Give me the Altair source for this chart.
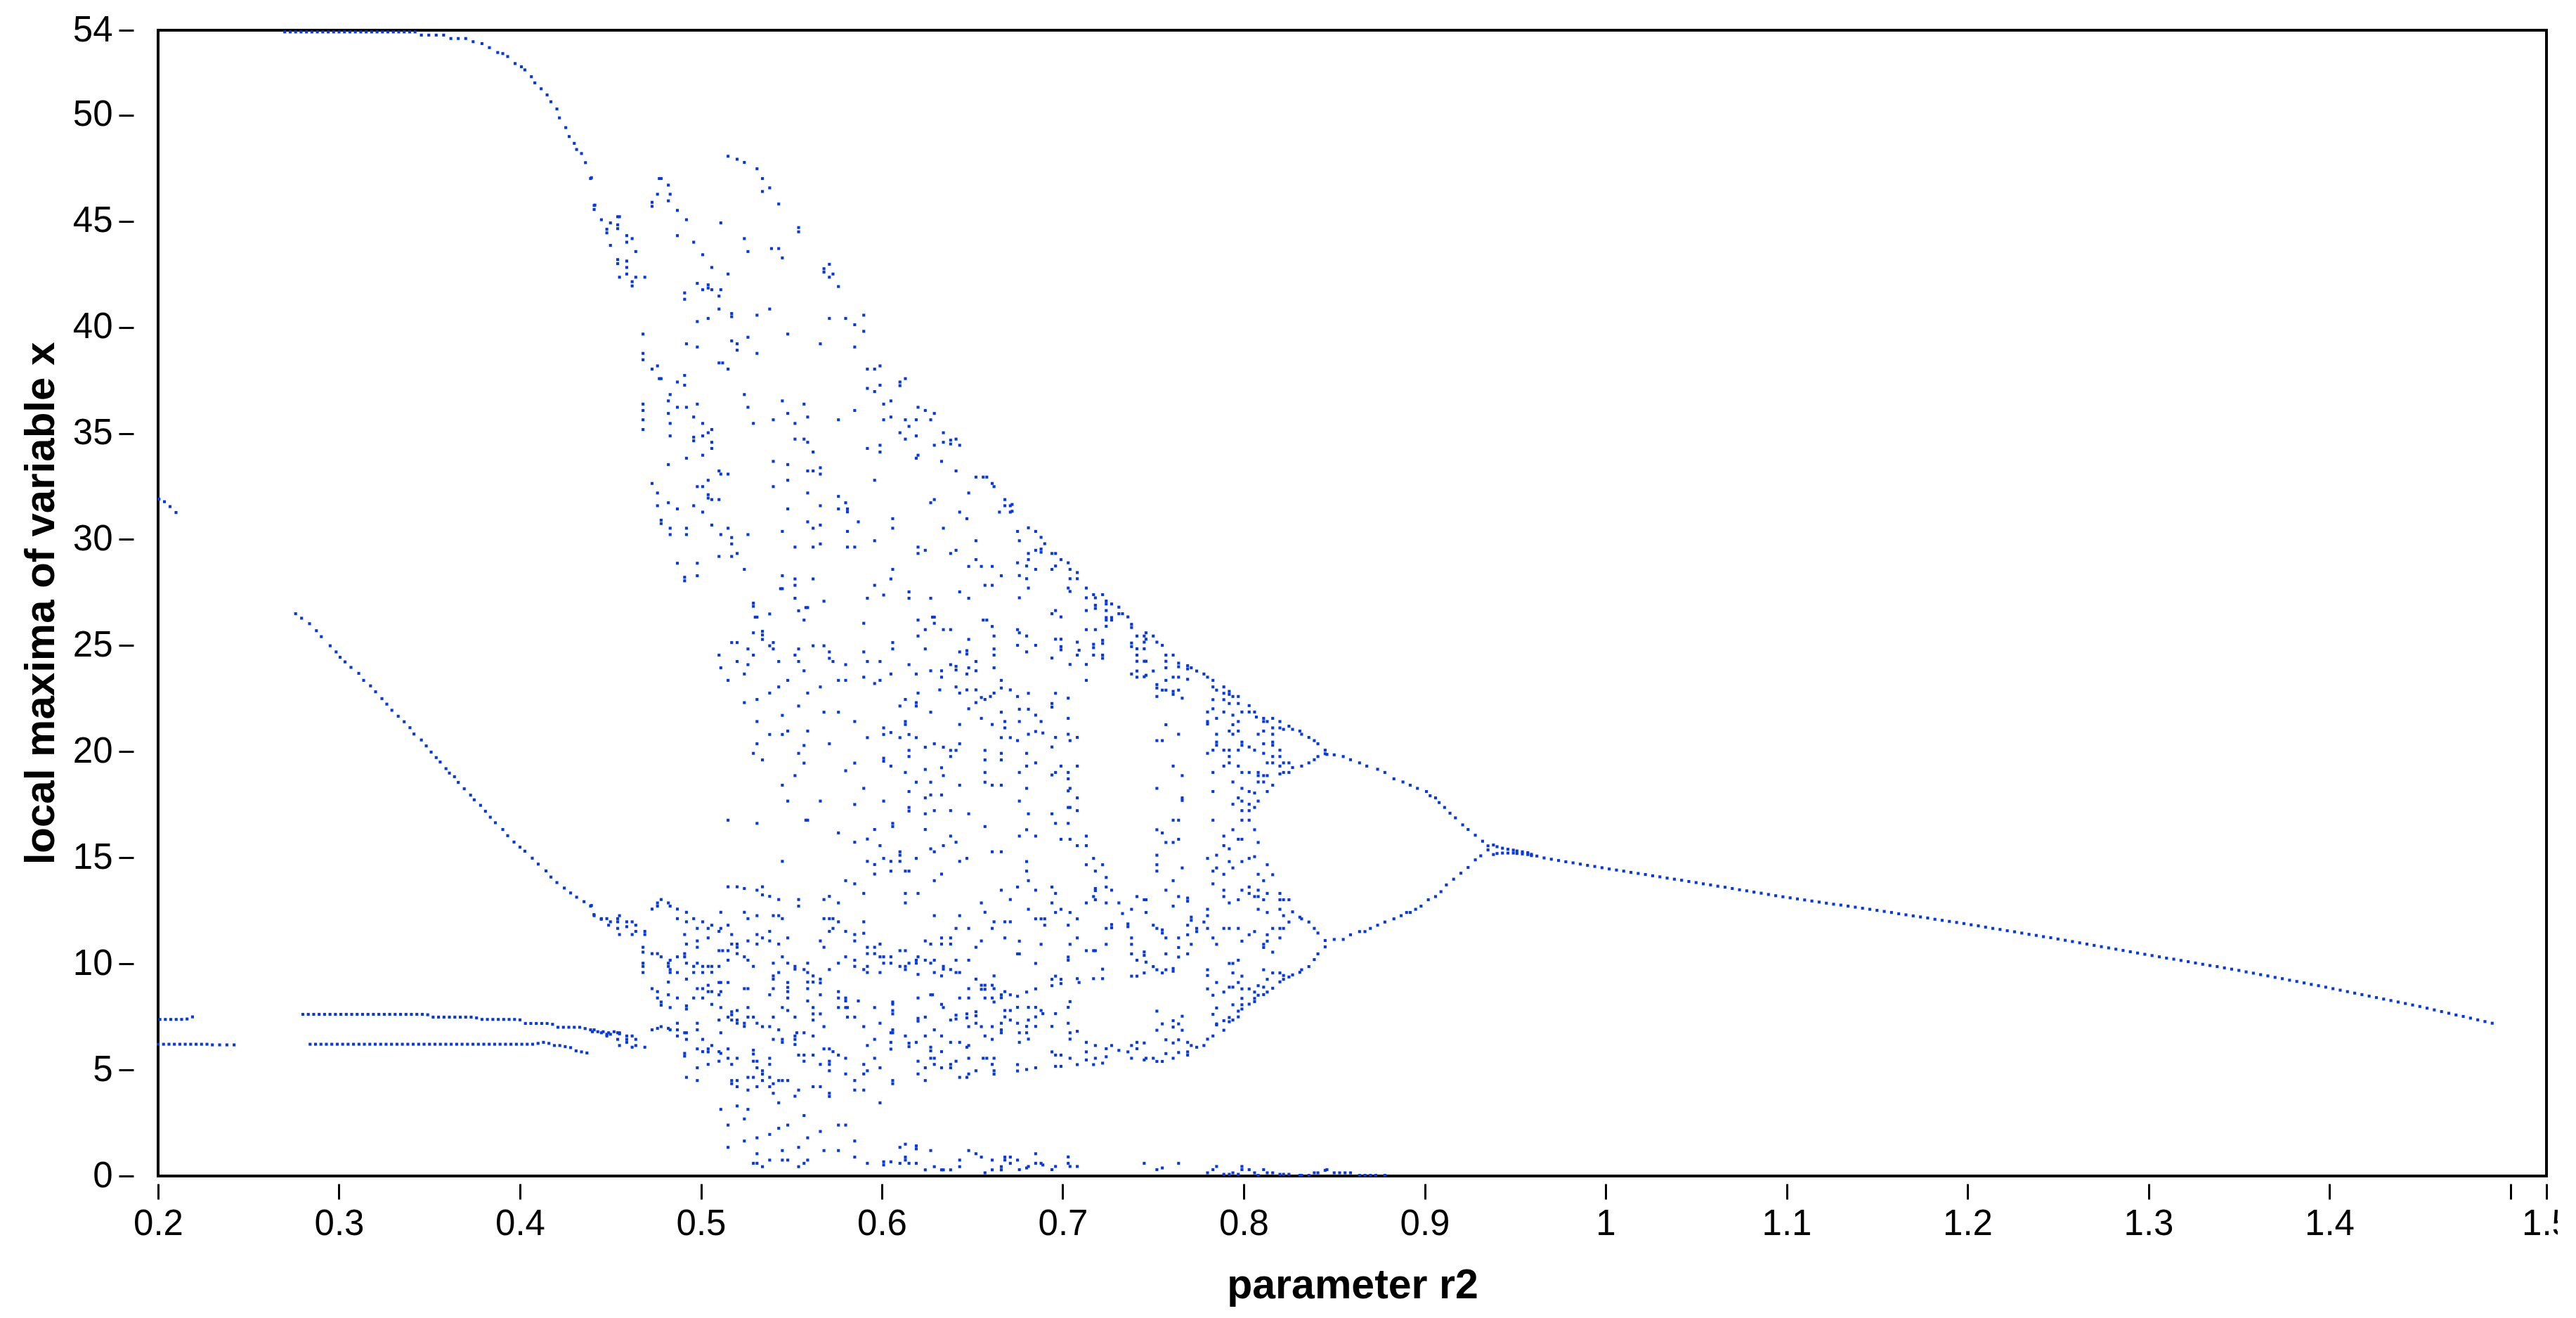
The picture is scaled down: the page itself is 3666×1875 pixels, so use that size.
import altair as alt
import pandas as pd

# ---------------- axis tick values ----------------
X_TICKS = [0.2, 0.3, 0.4, 0.5, 0.6, 0.7, 0.8, 0.9, 1.0, 1.1, 1.2, 1.3, 1.4, 1.5, 1.52]
Y_TICKS = [0, 5, 10, 15, 20, 25, 30, 35, 40, 45, 50, 54]

# ---------------- data (parameter r2, local maximum) ----------------
LEFT_SEG = [(0.2005, 31.9), (0.2035, 31.78), (0.2066, 31.55), (0.2099, 31.27)]

TOP_FLAT = [(0.270, 53.92), (0.273, 53.92), (0.276, 53.92), (0.279, 53.92), (0.282, 53.92), (0.285, 53.92),
            (0.288, 53.92), (0.291, 53.92), (0.294, 53.92), (0.297, 53.92), (0.300, 53.92), (0.303, 53.92),
            (0.306, 53.92), (0.309, 53.92), (0.312, 53.92), (0.315, 53.92), (0.318, 53.92), (0.321, 53.92),
            (0.324, 53.92), (0.327, 53.92), (0.330, 53.92), (0.333, 53.92), (0.336, 53.92), (0.339, 53.92),
            (0.342, 53.92)]

TOP_CURVE = [(0.3455, 53.77), (0.3496, 53.77), (0.3537, 53.77), (0.3578, 53.77), (0.3618, 53.61), (0.3659, 53.61),
             (0.3700, 53.61), (0.3741, 53.46), (0.3790, 53.37), (0.3831, 53.18), (0.3877, 52.95), (0.3905, 52.90),
             (0.3932, 52.76), (0.3973, 52.43), (0.4008, 52.28), (0.4027, 52.13), (0.4063, 51.81), (0.4082, 51.52),
             (0.4117, 51.24), (0.4150, 50.95), (0.4171, 50.63), (0.4204, 50.29), (0.4218, 49.87), (0.4253, 49.41),
             (0.4272, 48.99), (0.4300, 48.67), (0.4313, 48.38), (0.4340, 48.19), (0.4362, 47.76), (0.4395, 47.05),
             (0.4414, 45.76)]

BRANCH_B = [(0.2760, 26.50), (0.2793, 26.29), (0.2837, 26.03), (0.2875, 25.70), (0.2902, 25.42), (0.2951, 24.99),
            (0.2984, 24.70), (0.3006, 24.45), (0.3033, 24.23), (0.3066, 23.97), (0.3109, 23.69), (0.3136, 23.36),
            (0.3174, 23.10), (0.3202, 22.82), (0.3237, 22.50), (0.3264, 22.24), (0.3292, 21.95), (0.3327, 21.67),
            (0.3360, 21.41), (0.3392, 21.13), (0.3414, 20.83), (0.3455, 20.55), (0.3482, 20.27), (0.3509, 19.98),
            (0.3537, 19.72), (0.3559, 19.51), (0.3591, 19.20), (0.3610, 18.99), (0.3638, 18.82), (0.3659, 18.55),
            (0.3692, 18.25), (0.3727, 17.95), (0.3747, 17.73), (0.3782, 17.47), (0.3809, 17.19), (0.3836, 16.91),
            (0.3864, 16.65), (0.3905, 16.33), (0.3932, 16.04), (0.3967, 15.74), (0.4000, 15.50), (0.4027, 15.31),
            (0.4068, 14.98), (0.4101, 14.70), (0.4144, 14.38), (0.4171, 14.09), (0.4204, 13.83), (0.4245, 13.57),
            (0.4280, 13.34), (0.4313, 13.14), (0.4354, 12.93), (0.4395, 12.75), (0.4409, 12.32), (0.4449, 12.10)]

BRANCH_C = [(0.201, 7.38), (0.204, 7.38), (0.207, 7.38), (0.210, 7.38), (0.213, 7.38), (0.216, 7.40), (0.219, 7.50),
            (0.280, 7.62), (0.283, 7.62), (0.286, 7.62), (0.289, 7.62), (0.292, 7.62), (0.295, 7.62), (0.298, 7.62),
            (0.301, 7.62), (0.304, 7.62), (0.307, 7.62), (0.310, 7.62), (0.313, 7.62), (0.316, 7.62), (0.319, 7.62),
            (0.322, 7.62), (0.325, 7.62), (0.328, 7.62), (0.331, 7.62), (0.334, 7.62), (0.337, 7.62), (0.340, 7.62),
            (0.343, 7.62), (0.346, 7.62), (0.349, 7.60), (0.352, 7.49), (0.355, 7.49), (0.358, 7.49), (0.361, 7.49),
            (0.364, 7.49), (0.367, 7.49), (0.370, 7.49), (0.373, 7.49), (0.376, 7.45), (0.379, 7.38), (0.382, 7.38),
            (0.385, 7.38), (0.388, 7.38), (0.391, 7.38), (0.394, 7.38), (0.397, 7.38), (0.400, 7.36), (0.403, 7.19),
            (0.406, 7.19), (0.409, 7.19), (0.412, 7.19), (0.415, 7.19), (0.418, 7.15), (0.421, 7.01), (0.424, 7.01),
            (0.427, 7.01), (0.430, 7.01), (0.433, 7.01), (0.436, 6.95), (0.440, 6.80), (0.443, 6.80), (0.446, 6.80),
            (0.449, 6.75), (0.452, 6.80), (0.455, 6.70)]

BRANCH_D = [(0.200, 6.21), (0.203, 6.21), (0.206, 6.21), (0.209, 6.21), (0.212, 6.21), (0.215, 6.21), (0.218, 6.21),
            (0.221, 6.21), (0.224, 6.21), (0.227, 6.21), (0.230, 6.18), (0.234, 6.18), (0.238, 6.18), (0.242, 6.18),
            (0.284, 6.21), (0.287, 6.21), (0.290, 6.21), (0.293, 6.21), (0.296, 6.21), (0.299, 6.21), (0.302, 6.21),
            (0.305, 6.21), (0.308, 6.21), (0.311, 6.21), (0.314, 6.21), (0.317, 6.21), (0.320, 6.21), (0.323, 6.21),
            (0.326, 6.21), (0.329, 6.21), (0.332, 6.21), (0.335, 6.21), (0.338, 6.21), (0.341, 6.21), (0.344, 6.21),
            (0.347, 6.21), (0.350, 6.21), (0.353, 6.21), (0.356, 6.21), (0.359, 6.21), (0.362, 6.21), (0.365, 6.21),
            (0.368, 6.21), (0.371, 6.21), (0.374, 6.21), (0.377, 6.21), (0.380, 6.21), (0.383, 6.21), (0.386, 6.21),
            (0.389, 6.21), (0.392, 6.21), (0.395, 6.21), (0.398, 6.21), (0.401, 6.21), (0.404, 6.21), (0.407, 6.21),
            (0.410, 6.25), (0.413, 6.30), (0.416, 6.25), (0.419, 6.15), (0.422, 6.15), (0.425, 6.10), (0.428, 6.05),
            (0.431, 5.90), (0.434, 5.85), (0.437, 5.80)]

CHAOS_UPPER = [
    (0.515, 48.06), (0.520, 47.92), (0.524, 47.77), (0.531, 47.47), (0.534, 47.01), (0.534, 46.40), (0.538, 46.57),
    (0.543, 45.81), (0.554, 44.70), (0.554, 44.50), (0.439, 47.01), (0.477, 47.01), (0.478, 47.01), (0.482, 46.70),
    (0.476, 46.27), (0.483, 46.27), (0.473, 45.89), (0.473, 45.70), (0.482, 45.96), (0.441, 45.74), (0.441, 45.55),
    (0.487, 45.51), (0.445, 45.07), (0.454, 45.21), (0.455, 45.21), (0.450, 44.92), (0.454, 44.83), (0.454, 44.65),
    (0.448, 44.62), (0.448, 44.45), (0.492, 45.07), (0.511, 44.92), (0.459, 44.32), (0.462, 44.18), (0.487, 44.32),
    (0.459, 44.01), (0.496, 44.01), (0.524, 44.18), (0.450, 43.86), (0.464, 43.57), (0.526, 43.57), (0.539, 43.71),
    (0.543, 43.71), (0.501, 43.42), (0.545, 43.27), (0.454, 43.19), (0.454, 43.00), (0.459, 43.12), (0.459, 42.82),
    (0.506, 42.82), (0.568, 42.76), (0.568, 42.60), (0.571, 42.97), (0.573, 42.51), (0.571, 42.36), (0.459, 42.51),
    (0.455, 42.36), (0.464, 42.36), (0.469, 42.36), (0.462, 42.15), (0.462, 41.95), (0.515, 42.51), (0.498, 42.07),
    (0.504, 42.00), (0.504, 41.85), (0.501, 41.77), (0.506, 41.77), (0.511, 41.77), (0.491, 41.62), (0.491, 41.32),
    (0.510, 41.47), (0.576, 41.92), (0.510, 40.86), (0.538, 40.86), (0.517, 40.65), (0.517, 40.50), (0.531, 40.57),
    (0.504, 40.42), (0.498, 40.27), (0.571, 40.42), (0.580, 40.42), (0.590, 40.57), (0.585, 40.12), (0.590, 39.81),
    (0.548, 39.68), (0.468, 39.68), (0.492, 39.22), (0.498, 39.07), (0.517, 39.36), (0.520, 39.22), (0.520, 38.92),
    (0.526, 39.53), (0.531, 38.77), (0.566, 39.22), (0.585, 39.07), (0.468, 38.77), (0.468, 38.47), (0.510, 38.32),
    (0.512, 38.32), (0.515, 38.03), (0.473, 38.03), (0.476, 38.18), (0.477, 37.58), (0.478, 37.58), (0.491, 37.73),
    (0.487, 37.42), (0.491, 37.27), (0.592, 38.03), (0.596, 38.03), (0.599, 38.18), (0.610, 37.42), (0.610, 37.25),
    (0.613, 37.58), (0.592, 37.12), (0.596, 36.97), (0.599, 37.27), (0.483, 36.83), (0.524, 36.83), (0.482, 36.53),
    (0.468, 36.38), (0.468, 36.08), (0.468, 35.64), (0.468, 35.18), (0.487, 36.23), (0.492, 36.23), (0.498, 36.38),
    (0.482, 35.94), (0.496, 35.77), (0.483, 35.47), (0.501, 35.47), (0.526, 36.23), (0.545, 36.53), (0.557, 36.38),
    (0.548, 35.94), (0.559, 35.77), (0.540, 35.64), (0.552, 35.47), (0.529, 35.47), (0.576, 35.64), (0.585, 36.08),
    (0.601, 36.38), (0.605, 36.53), (0.605, 35.77), (0.601, 35.64), (0.620, 36.23), (0.624, 36.08), (0.629, 35.94),
    (0.613, 35.64), (0.619, 35.64), (0.627, 35.64), (0.615, 35.33), (0.610, 35.03), (0.613, 34.73), (0.619, 34.88),
    (0.634, 35.03), (0.638, 34.68), (0.638, 34.50), (0.641, 34.73), (0.634, 34.58), (0.643, 34.44), (0.629, 34.44),
    (0.506, 35.18), (0.504, 35.03), (0.501, 34.88), (0.496, 34.82), (0.496, 34.65), (0.483, 34.88), (0.506, 34.58),
    (0.506, 34.29), (0.501, 33.97), (0.492, 33.83), (0.482, 33.53), (0.552, 34.73), (0.557, 34.73), (0.559, 34.58),
    (0.562, 34.12), (0.592, 34.29), (0.599, 34.44), (0.599, 34.12), (0.620, 33.97), (0.619, 33.83), (0.633, 33.68),
    (0.540, 33.68), (0.548, 33.53), (0.510, 33.23), (0.511, 33.08), (0.515, 33.08), (0.504, 32.79), (0.559, 33.23),
    (0.562, 33.23), (0.566, 33.38), (0.566, 33.08), (0.548, 32.79), (0.596, 32.79), (0.641, 33.23), (0.652, 32.94),
    (0.656, 32.94), (0.658, 32.94), (0.661, 32.64), (0.662, 32.49), (0.473, 32.64), (0.476, 32.19), (0.498, 32.49),
    (0.501, 32.49), (0.540, 32.49), (0.504, 32.11), (0.504, 31.95), (0.506, 31.88), (0.510, 31.88), (0.559, 32.19),
    (0.576, 32.03), (0.580, 31.73), (0.648, 32.19), (0.629, 31.88), (0.627, 31.73), (0.668, 31.88), (0.668, 31.59),
    (0.671, 31.59), (0.665, 31.29), (0.671, 31.29), (0.476, 31.59), (0.482, 31.73), (0.487, 31.44), (0.496, 31.59),
    (0.501, 31.29), (0.548, 31.44), (0.566, 31.59), (0.576, 31.44), (0.581, 31.44), (0.581, 31.30), (0.478, 30.91),
    (0.478, 30.75), (0.483, 30.53), (0.483, 30.23), (0.492, 30.53), (0.492, 30.23), (0.506, 30.68), (0.515, 30.53),
    (0.511, 30.23), (0.517, 30.09), (0.517, 29.79), (0.526, 30.23), (0.545, 30.38), (0.559, 30.83), (0.562, 30.53),
    (0.566, 30.68), (0.581, 30.38), (0.587, 30.83), (0.606, 30.98), (0.606, 30.53), (0.634, 30.53), (0.643, 31.29),
    (0.647, 30.98), (0.596, 29.94), (0.520, 29.34), (0.510, 29.20), (0.517, 29.20), (0.552, 29.64), (0.562, 29.64),
    (0.566, 29.79), (0.581, 29.64), (0.585, 29.64), (0.620, 29.64), (0.624, 29.49), (0.620, 29.34), (0.638, 29.34),
    (0.641, 29.49), (0.652, 29.94), (0.652, 29.05), (0.648, 28.73), (0.655, 28.73), (0.661, 28.73), (0.666, 28.29),
    (0.657, 27.84), (0.661, 27.84), (0.487, 28.88), (0.498, 28.88), (0.491, 28.22), (0.491, 28.05), (0.498, 28.29),
    (0.524, 28.59), (0.545, 28.29), (0.552, 28.14), (0.552, 27.84), (0.562, 28.14), (0.606, 28.59), (0.605, 28.14),
    (0.596, 27.84), (0.601, 27.38), (0.615, 27.53), (0.615, 27.23), (0.627, 27.23), (0.643, 27.53), (0.648, 27.23),
    (0.592, 27.23), (0.552, 27.23), (0.568, 27.09), (0.544, 27.68), (0.545, 27.68), (0.529, 27.00), (0.529, 26.85),
    (0.558, 26.79), (0.559, 26.79), (0.554, 26.64), (0.538, 26.49), (0.530, 26.34), (0.531, 26.34), (0.557, 26.20),
    (0.590, 26.05), (0.620, 26.20), (0.629, 26.05), (0.628, 26.34), (0.629, 26.34), (0.656, 26.20), (0.658, 26.20),
    (0.661, 25.90), (0.624, 25.75), (0.634, 25.75), (0.638, 25.75), (0.620, 25.45), (0.648, 25.29), (0.662, 25.45),
    (0.534, 25.67), (0.534, 25.50), (0.529, 25.60), (0.534, 25.29), (0.540, 25.14), (0.538, 24.99), (0.517, 25.14),
    (0.520, 25.14), (0.526, 24.84), (0.540, 24.84), (0.554, 24.84), (0.562, 24.99), (0.568, 24.99), (0.571, 24.70),
    (0.571, 24.40), (0.573, 24.25), (0.590, 24.70), (0.606, 25.14), (0.606, 24.84), (0.624, 24.84), (0.647, 24.76),
    (0.647, 24.60), (0.643, 24.70), (0.662, 24.84), (0.662, 24.55), (0.510, 24.55), (0.529, 24.55), (0.552, 24.55),
    (0.511, 23.95), (0.520, 24.25), (0.526, 24.10), (0.543, 24.25), (0.554, 24.25), (0.580, 24.10), (0.592, 24.25),
    (0.599, 24.25), (0.615, 24.10), (0.638, 24.10), (0.641, 24.02), (0.641, 23.85), (0.648, 23.95), (0.652, 24.25),
    (0.662, 23.95), (0.557, 23.81), (0.524, 23.66), (0.605, 23.66), (0.619, 23.66), (0.627, 23.81), (0.633, 23.81),
    (0.647, 23.66), (0.652, 23.81), (0.590, 23.51), (0.633, 23.51), (0.515, 23.36), (0.548, 23.36), (0.576, 23.36),
    (0.580, 23.36), (0.596, 23.21), (0.599, 23.36), (0.666, 23.36)]

CHAOS_LOWER = [
    (0.543, 23.05), (0.566, 23.05), (0.632, 22.91), (0.641, 23.05), (0.647, 22.91), (0.652, 22.91), (0.666, 23.00),
    (0.671, 22.91), (0.538, 22.76), (0.559, 22.76), (0.620, 22.76), (0.643, 22.76), (0.662, 22.76), (0.660, 22.60),
    (0.655, 22.55), (0.657, 22.46), (0.524, 22.31), (0.531, 22.46), (0.554, 22.15), (0.610, 22.15), (0.613, 22.46),
    (0.619, 22.31), (0.619, 22.15), (0.652, 22.31), (0.648, 22.02), (0.545, 21.71), (0.568, 21.86), (0.576, 21.86),
    (0.627, 21.86), (0.666, 21.86), (0.531, 21.42), (0.585, 21.42), (0.613, 21.42), (0.613, 21.28), (0.643, 21.28),
    (0.655, 21.57), (0.661, 21.28), (0.668, 21.42), (0.668, 21.12), (0.538, 20.81), (0.545, 20.81), (0.548, 20.97),
    (0.559, 20.97), (0.592, 20.66), (0.601, 21.12), (0.601, 20.81), (0.605, 20.90), (0.610, 20.66), (0.615, 20.81),
    (0.619, 20.66), (0.666, 20.66), (0.671, 20.66), (0.531, 20.37), (0.557, 20.29), (0.571, 20.37), (0.624, 20.21),
    (0.629, 20.37), (0.634, 20.21), (0.638, 20.06), (0.641, 20.06), (0.643, 20.37), (0.657, 20.06), (0.666, 19.92),
    (0.529, 19.92), (0.534, 19.61), (0.554, 19.92), (0.615, 20.06), (0.615, 19.77), (0.638, 19.77), (0.657, 19.61),
    (0.666, 19.61), (0.557, 19.46), (0.585, 19.46), (0.601, 19.69), (0.601, 19.55), (0.605, 19.32), (0.624, 19.16),
    (0.633, 19.24), (0.634, 18.87), (0.657, 19.02), (0.580, 19.10), (0.613, 19.02), (0.552, 18.87), (0.545, 18.42),
    (0.590, 18.27), (0.619, 18.56), (0.627, 18.56), (0.643, 18.42), (0.657, 18.56), (0.661, 18.42), (0.666, 18.42),
    (0.615, 18.12), (0.624, 17.82), (0.627, 17.96), (0.633, 17.96), (0.548, 17.67), (0.566, 17.67), (0.585, 17.51),
    (0.601, 17.67), (0.615, 17.37), (0.615, 17.20), (0.629, 17.22), (0.638, 17.22), (0.648, 17.07), (0.624, 17.07),
    (0.515, 16.77), (0.531, 16.62), (0.558, 16.77), (0.559, 16.77), (0.606, 16.62), (0.606, 16.47), (0.657, 16.47),
    (0.576, 16.17), (0.596, 16.33), (0.624, 16.33), (0.585, 15.73), (0.592, 15.88), (0.599, 15.57), (0.610, 15.28),
    (0.610, 15.12), (0.627, 15.42), (0.629, 15.28), (0.634, 15.57), (0.638, 16.02), (0.641, 15.73), (0.661, 15.28),
    (0.666, 15.28), (0.545, 14.83), (0.592, 14.83), (0.596, 14.68), (0.601, 14.97), (0.605, 14.83), (0.610, 14.83),
    (0.613, 14.37), (0.615, 14.37), (0.619, 14.97), (0.596, 14.23), (0.605, 14.37), (0.633, 14.23), (0.629, 13.92),
    (0.643, 14.83), (0.647, 14.97), (0.580, 13.92), (0.585, 13.77), (0.666, 13.47), (0.590, 13.32), (0.613, 13.32),
    (0.620, 13.32), (0.613, 12.87), (0.515, 13.63), (0.520, 13.63), (0.524, 13.55), (0.531, 13.47), (0.534, 13.63),
    (0.534, 13.25), (0.538, 13.18), (0.543, 13.03), (0.554, 13.03), (0.554, 12.72), (0.568, 13.03), (0.571, 13.18),
    (0.576, 12.87), (0.655, 12.87), (0.671, 13.03), (0.657, 12.43), (0.629, 12.27), (0.643, 12.27),
    (0.439, 12.72), (0.441, 12.27), (0.445, 12.13), (0.448, 12.13), (0.450, 11.98), (0.449, 11.82), (0.454, 12.13),
    (0.454, 11.98), (0.455, 12.27), (0.454, 11.67), (0.455, 11.38), (0.459, 11.98), (0.459, 11.75), (0.462, 11.98),
    (0.464, 11.82), (0.462, 11.38), (0.464, 11.53), (0.469, 11.53), (0.469, 11.38), (0.473, 12.58), (0.476, 12.87),
    (0.476, 12.72), (0.478, 13.03), (0.482, 12.87), (0.483, 12.72), (0.487, 12.58), (0.492, 12.43), (0.487, 12.13),
    (0.492, 11.98), (0.496, 12.13), (0.501, 11.98), (0.498, 11.67), (0.504, 11.67), (0.506, 11.82), (0.511, 12.43),
    (0.510, 11.53), (0.511, 11.67), (0.515, 11.82), (0.517, 11.38), (0.491, 11.38), (0.504, 11.22), (0.492, 10.93),
    (0.498, 11.08), (0.498, 10.78), (0.520, 10.93), (0.520, 10.78), (0.517, 10.93), (0.524, 12.43), (0.526, 12.13),
    (0.531, 12.27), (0.531, 11.38), (0.534, 11.22), (0.538, 11.53), (0.540, 12.27), (0.543, 12.27), (0.545, 12.13),
    (0.548, 11.22), (0.526, 11.08), (0.531, 10.93), (0.538, 11.08), (0.543, 10.93), (0.568, 12.13), (0.571, 12.13),
    (0.573, 12.13), (0.571, 11.53), (0.573, 11.67), (0.576, 11.98), (0.580, 11.53), (0.585, 11.38), (0.585, 11.08),
    (0.590, 11.98), (0.590, 11.44), (0.566, 11.08), (0.568, 10.78), (0.468, 10.78), (0.468, 10.55), (0.468, 10.03),
    (0.468, 9.88), (0.468, 9.59), (0.473, 10.48), (0.476, 10.48), (0.478, 10.33), (0.483, 10.17), (0.482, 10.03),
    (0.482, 9.88), (0.483, 9.73), (0.483, 9.59), (0.487, 10.33), (0.487, 9.59), (0.491, 10.48), (0.491, 10.33),
    (0.492, 10.03), (0.496, 9.88), (0.498, 10.03), (0.496, 9.59), (0.501, 9.88), (0.501, 9.59), (0.504, 9.88),
    (0.506, 9.88), (0.506, 9.60), (0.510, 9.88), (0.510, 10.62), (0.512, 10.62), (0.515, 10.62), (0.515, 10.17),
    (0.520, 10.48), (0.524, 10.33), (0.526, 10.17), (0.529, 9.88), (0.540, 10.03), (0.545, 10.33), (0.548, 10.03),
    (0.552, 9.88), (0.552, 9.75), (0.559, 10.03), (0.557, 9.73), (0.559, 9.59), (0.562, 9.43), (0.571, 9.73),
    (0.576, 10.03), (0.580, 10.33), (0.585, 10.17), (0.585, 9.88), (0.590, 9.73), (0.592, 10.78), (0.596, 10.78),
    (0.599, 10.93), (0.592, 10.48), (0.596, 10.48), (0.599, 10.33), (0.601, 10.33), (0.605, 10.33), (0.601, 10.03),
    (0.605, 10.03), (0.610, 10.62), (0.613, 10.62), (0.610, 9.88), (0.613, 9.88), (0.613, 9.73), (0.615, 10.03),
    (0.619, 10.17), (0.619, 10.03), (0.620, 10.33), (0.620, 9.50), (0.624, 10.17), (0.627, 10.03), (0.629, 10.17),
    (0.629, 9.59), (0.633, 9.43), (0.634, 9.88), (0.634, 9.75), (0.638, 9.73), (0.641, 10.17), (0.641, 9.59),
    (0.643, 9.59), (0.648, 10.17), (0.592, 9.88), (0.592, 9.59), (0.599, 9.59), (0.624, 11.08), (0.627, 10.93),
    (0.633, 11.22), (0.638, 11.22), (0.633, 10.93), (0.638, 10.93), (0.641, 11.67), (0.648, 11.67), (0.652, 10.78),
    (0.655, 11.08), (0.661, 11.67), (0.662, 11.98), (0.668, 11.98), (0.671, 11.98), (0.668, 11.22),
    (0.652, 9.28), (0.655, 8.99), (0.655, 8.80), (0.657, 8.99), (0.657, 8.80), (0.662, 9.43), (0.661, 8.99),
    (0.662, 8.83), (0.648, 8.83), (0.666, 8.54), (0.666, 8.40), (0.668, 8.69), (0.671, 8.54), (0.657, 8.39),
    (0.661, 8.39), (0.662, 8.20), (0.643, 8.39), (0.648, 8.39), (0.627, 8.54), (0.628, 8.54), (0.620, 8.39),
    (0.633, 8.09), (0.634, 7.94), (0.638, 7.35), (0.641, 7.58), (0.641, 7.40), (0.647, 7.64), (0.647, 7.45),
    (0.652, 7.74), (0.652, 7.55), (0.648, 7.04), (0.652, 7.20), (0.655, 7.04), (0.661, 7.04), (0.666, 7.20),
    (0.668, 7.50), (0.668, 7.80), (0.671, 7.80), (0.671, 7.35), (0.666, 6.89), (0.666, 6.75), (0.657, 6.60),
    (0.661, 6.44), (0.620, 7.43), (0.620, 7.30), (0.624, 7.49), (0.629, 6.89), (0.633, 6.60), (0.624, 6.60),
    (0.613, 6.60), (0.615, 6.26), (0.615, 6.10), (0.619, 6.30), (0.627, 6.07), (0.627, 5.90), (0.633, 5.86),
    (0.643, 6.30), (0.647, 6.07), (0.648, 6.15), (0.638, 6.30), (0.627, 5.55), (0.629, 5.55), (0.620, 5.41),
    (0.624, 5.10), (0.629, 5.26), (0.633, 5.10), (0.638, 5.26), (0.638, 5.10), (0.641, 5.41), (0.648, 5.55),
    (0.652, 4.96), (0.656, 5.55), (0.658, 5.55), (0.661, 5.26), (0.662, 5.55), (0.662, 4.96), (0.662, 4.80),
    (0.643, 4.65), (0.647, 4.65), (0.648, 4.81), (0.620, 4.81), (0.624, 4.50), (0.606, 4.50), (0.606, 4.35),
    (0.590, 5.26), (0.592, 4.96), (0.590, 4.81), (0.585, 4.50), (0.585, 4.05), (0.590, 4.05), (0.599, 5.10),
    (0.599, 3.45), (0.605, 5.98), (0.606, 6.89), (0.606, 6.75), (0.605, 6.75), (0.605, 6.30), (0.599, 7.20),
    (0.596, 6.44), (0.592, 6.15), (0.596, 5.55), (0.590, 7.04), (0.606, 8.20), (0.606, 8.10), (0.606, 7.80),
    (0.606, 7.64), (0.596, 7.94), (0.587, 8.25), (0.580, 8.39), (0.580, 8.25), (0.581, 7.94), (0.580, 7.94),
    (0.581, 7.49), (0.585, 7.49), (0.576, 8.69), (0.576, 8.39), (0.576, 7.94), (0.566, 8.54), (0.566, 7.64),
    (0.562, 7.94), (0.562, 7.64), (0.562, 7.35), (0.568, 7.04), (0.562, 6.60), (0.559, 8.25), (0.552, 7.49),
    (0.545, 7.94), (0.540, 7.49), (0.548, 7.80), (0.548, 9.12), (0.548, 8.89), (0.548, 8.69), (0.548, 8.39),
    (0.559, 9.14), (0.562, 9.14), (0.566, 9.28), (0.566, 9.10), (0.559, 8.83), (0.540, 8.83), (0.538, 8.54),
    (0.540, 9.43), (0.540, 9.28), (0.543, 9.59), (0.524, 8.83), (0.526, 8.83), (0.515, 9.12), (0.511, 9.12),
    (0.510, 9.12), (0.511, 8.69), (0.510, 8.54), (0.504, 8.99), (0.504, 8.69), (0.506, 8.69), (0.501, 8.83),
    (0.498, 8.83), (0.501, 8.39), (0.496, 8.39), (0.492, 9.28), (0.482, 9.14), (0.473, 8.83), (0.476, 8.69),
    (0.482, 8.54), (0.476, 8.39), (0.478, 8.20), (0.478, 8.05), (0.487, 8.39), (0.483, 7.94), (0.492, 8.02),
    (0.492, 7.87), (0.506, 8.09), (0.511, 7.94), (0.517, 7.74), (0.517, 7.60), (0.520, 7.80), (0.526, 7.94),
    (0.526, 7.49), (0.529, 7.49), (0.531, 7.20), (0.534, 7.04), (0.538, 7.04), (0.520, 7.35), (0.520, 7.20),
    (0.517, 7.35), (0.515, 7.49), (0.510, 7.35), (0.524, 7.20), (0.524, 7.05), (0.511, 6.75),
    (0.439, 6.89), (0.441, 6.89), (0.445, 6.75), (0.448, 6.68), (0.450, 6.68), (0.448, 6.60), (0.454, 6.75),
    (0.454, 6.44), (0.455, 6.75), (0.455, 6.15), (0.459, 6.60), (0.459, 6.44), (0.459, 6.30), (0.462, 6.60),
    (0.464, 6.44), (0.462, 6.07), (0.464, 6.15), (0.469, 6.07), (0.473, 6.89), (0.476, 6.96), (0.478, 7.04),
    (0.482, 6.96), (0.483, 6.89), (0.487, 7.20), (0.487, 6.89), (0.487, 6.60), (0.491, 6.75), (0.492, 6.75),
    (0.492, 6.44), (0.498, 7.20), (0.498, 6.89), (0.501, 6.44), (0.491, 5.78), (0.491, 5.65), (0.498, 5.99),
    (0.501, 5.86), (0.504, 5.99), (0.504, 5.85), (0.506, 6.15), (0.510, 5.86), (0.511, 5.78), (0.510, 5.41),
    (0.515, 5.99), (0.515, 5.55), (0.520, 5.55), (0.504, 5.26), (0.498, 5.10), (0.492, 4.65), (0.498, 4.50),
    (0.517, 5.26), (0.517, 4.50), (0.517, 4.35), (0.520, 4.50), (0.520, 4.21), (0.526, 4.65), (0.529, 4.65),
    (0.526, 4.05), (0.529, 5.93), (0.529, 5.75), (0.529, 5.41), (0.531, 5.41), (0.531, 5.10), (0.534, 4.96),
    (0.534, 4.80), (0.534, 4.50), (0.538, 5.55), (0.538, 5.26), (0.538, 4.65), (0.538, 4.21), (0.531, 4.21),
    (0.540, 4.35), (0.540, 3.90), (0.543, 4.50), (0.545, 4.50), (0.548, 4.50), (0.545, 6.44), (0.545, 6.30),
    (0.543, 6.89), (0.540, 6.44), (0.552, 6.60), (0.552, 6.44), (0.552, 6.20), (0.553, 6.75), (0.557, 6.75),
    (0.554, 5.70), (0.557, 5.70), (0.562, 5.70), (0.557, 5.41), (0.566, 5.26), (0.571, 5.99), (0.573, 5.86),
    (0.571, 5.41), (0.571, 5.26), (0.571, 4.96), (0.568, 5.99), (0.576, 5.70), (0.580, 5.55), (0.580, 4.81),
    (0.562, 4.21), (0.566, 4.21), (0.571, 3.90), (0.571, 3.75), (0.554, 4.05), (0.552, 3.76), (0.543, 3.45),
    (0.511, 3.14), (0.520, 3.30), (0.526, 3.14), (0.524, 2.69), (0.515, 2.40), (0.557, 2.85), (0.566, 2.10),
    (0.548, 2.40), (0.543, 2.25), (0.538, 1.96), (0.531, 1.80), (0.524, 1.65), (0.515, 1.35), (0.559, 1.80),
    (0.576, 2.40), (0.580, 2.40), (0.585, 1.65), (0.568, 1.20), (0.576, 1.20), (0.554, 1.35), (0.545, 1.20),
    (0.531, 1.05)]

CHAOS_RIGHT_UPPER = [
    (0.672, 31.65), (0.672, 31.33), (0.681, 30.55), (0.685, 30.38), (0.675, 30.38), (0.676, 29.94), (0.688, 30.10),
    (0.690, 29.80), (0.688, 29.55), (0.688, 29.40), (0.685, 29.49), (0.681, 29.34), (0.694, 29.34), (0.696, 29.34),
    (0.699, 29.05), (0.681, 29.05), (0.703, 28.90), (0.675, 28.90), (0.680, 28.75), (0.696, 28.75), (0.685, 28.59),
    (0.694, 28.59), (0.704, 28.59), (0.708, 28.44), (0.676, 28.30), (0.680, 28.15), (0.704, 28.15), (0.708, 28.15),
    (0.681, 27.71), (0.703, 27.71), (0.704, 27.55), (0.713, 27.71), (0.676, 27.25), (0.713, 27.25), (0.717, 27.40),
    (0.718, 27.25), (0.722, 27.40), (0.724, 27.10), (0.724, 26.96), (0.718, 26.90), (0.718, 26.75), (0.727, 26.96),
    (0.731, 26.81), (0.696, 26.65), (0.694, 26.50), (0.699, 26.35), (0.713, 26.65), (0.724, 26.65), (0.731, 26.50),
    (0.733, 26.50), (0.724, 26.32), (0.724, 26.20), (0.727, 26.32), (0.727, 26.20), (0.736, 26.35), (0.738, 26.00),
    (0.738, 25.85), (0.724, 25.91), (0.675, 25.75), (0.676, 25.60), (0.680, 25.45), (0.713, 25.75), (0.718, 25.75),
    (0.741, 25.45), (0.745, 25.45), (0.746, 25.60), (0.746, 25.30), (0.750, 25.45), (0.745, 25.16), (0.752, 25.16),
    (0.755, 25.01), (0.696, 25.30), (0.699, 25.30), (0.675, 25.01), (0.685, 25.01), (0.699, 24.95), (0.699, 24.80),
    (0.708, 25.16), (0.709, 24.78), (0.717, 25.06), (0.717, 24.90), (0.722, 25.25), (0.722, 25.10), (0.722, 24.55),
    (0.722, 24.40), (0.738, 25.12), (0.738, 24.95), (0.680, 24.70), (0.694, 24.41), (0.708, 24.55), (0.717, 24.55),
    (0.741, 24.85), (0.745, 24.85), (0.741, 24.55), (0.757, 24.55), (0.761, 24.55), (0.704, 24.11), (0.713, 24.11),
    (0.741, 24.26), (0.745, 24.26), (0.746, 24.26), (0.757, 24.26), (0.764, 24.17), (0.764, 24.00), (0.757, 23.95),
    (0.769, 24.05), (0.769, 23.90), (0.771, 23.95), (0.774, 23.80), (0.778, 23.66), (0.780, 23.51), (0.783, 23.36),
    (0.741, 23.80), (0.750, 23.80), (0.738, 23.66), (0.741, 23.51), (0.745, 23.53), (0.746, 23.60), (0.761, 23.51),
    (0.764, 23.51), (0.769, 23.41), (0.713, 23.36), (0.757, 23.36), (0.752, 23.16), (0.752, 23.00), (0.755, 22.90),
    (0.757, 22.90), (0.761, 22.84), (0.761, 22.70), (0.764, 22.90), (0.766, 22.52), (0.783, 23.05), (0.785, 22.90),
    (0.789, 23.05), (0.789, 22.75), (0.792, 22.84), (0.792, 22.70), (0.794, 22.60), (0.797, 22.60), (0.783, 22.45),
    (0.789, 22.45), (0.675, 22.60), (0.681, 22.75), (0.696, 22.75), (0.703, 22.52), (0.752, 22.60)]

CHAOS_RIGHT_LOWER = [
    (0.676, 22.00), (0.681, 22.00), (0.685, 21.72), (0.688, 21.42), (0.676, 21.42), (0.675, 20.52), (0.681, 20.82),
    (0.685, 20.95), (0.689, 20.88), (0.696, 20.67), (0.703, 20.82), (0.704, 20.52), (0.708, 20.67), (0.694, 20.22),
    (0.694, 22.27), (0.694, 22.10), (0.703, 21.57), (0.680, 19.92), (0.685, 19.47), (0.680, 19.32), (0.699, 19.32),
    (0.708, 19.32), (0.676, 19.02), (0.694, 18.90), (0.696, 19.02), (0.703, 19.02), (0.703, 18.72), (0.680, 18.27),
    (0.703, 18.15), (0.704, 18.27), (0.708, 17.82), (0.676, 17.67), (0.703, 17.37), (0.704, 17.37), (0.708, 17.22),
    (0.681, 17.07), (0.694, 17.07), (0.696, 16.62), (0.703, 16.62), (0.680, 16.32), (0.676, 16.02), (0.685, 16.02),
    (0.699, 15.87), (0.704, 15.87), (0.708, 15.57), (0.713, 16.02), (0.713, 15.57), (0.680, 14.82), (0.680, 14.37),
    (0.681, 13.92), (0.675, 13.62), (0.685, 13.47), (0.694, 13.62), (0.696, 13.32), (0.694, 12.87), (0.699, 12.57),
    (0.696, 12.42), (0.704, 12.42), (0.708, 12.12), (0.703, 11.82), (0.681, 12.57), (0.685, 12.12), (0.688, 12.12),
    (0.690, 12.12), (0.690, 11.82), (0.713, 14.67), (0.717, 14.97), (0.722, 14.67), (0.718, 14.37), (0.724, 14.07),
    (0.718, 13.55), (0.718, 13.45), (0.724, 13.62), (0.727, 13.47), (0.717, 13.17), (0.718, 13.02), (0.713, 12.87),
    (0.724, 12.87), (0.731, 12.87), (0.733, 12.37), (0.738, 12.57), (0.741, 13.17), (0.745, 13.02), (0.746, 13.02),
    (0.746, 12.42), (0.727, 11.85), (0.727, 11.70), (0.724, 11.67), (0.736, 11.88), (0.736, 11.75), (0.676, 11.07),
    (0.688, 10.92), (0.704, 10.92), (0.708, 11.22), (0.675, 10.47), (0.676, 10.47), (0.703, 10.32), (0.703, 10.17),
    (0.685, 10.02), (0.713, 10.62), (0.718, 10.62), (0.724, 10.92), (0.738, 11.22), (0.738, 10.92), (0.738, 10.47),
    (0.745, 10.56), (0.745, 10.40), (0.741, 10.17), (0.746, 10.08), (0.745, 9.57), (0.741, 9.42), (0.738, 9.42),
    (0.750, 9.87), (0.752, 9.72), (0.755, 9.57), (0.757, 9.72), (0.761, 9.78), (0.761, 9.65), (0.750, 11.82),
    (0.752, 11.67), (0.755, 11.60), (0.755, 11.45), (0.757, 11.22), (0.764, 11.22), (0.764, 10.77), (0.764, 10.32),
    (0.757, 10.47), (0.769, 11.82), (0.771, 12.20), (0.771, 12.05), (0.769, 11.37), (0.771, 10.92), (0.769, 10.47),
    (0.774, 11.67), (0.774, 11.52), (0.778, 11.97), (0.780, 12.57), (0.780, 12.27), (0.761, 12.72), (0.764, 13.17),
    (0.769, 13.10), (0.769, 12.95), (0.757, 13.47), (0.752, 18.27), (0.761, 19.32), (0.766, 18.87), (0.766, 17.82),
    (0.766, 17.70), (0.752, 16.32), (0.755, 16.17), (0.757, 15.72), (0.761, 15.72), (0.764, 15.87), (0.752, 15.12),
    (0.752, 14.67), (0.752, 14.37), (0.766, 14.52), (0.761, 13.92), (0.764, 16.77), (0.761, 16.77), (0.757, 21.27),
    (0.764, 20.82), (0.752, 20.52), (0.755, 20.52),
    (0.780, 21.87), (0.780, 21.42), (0.780, 21.30), (0.783, 22.02), (0.785, 21.57), (0.789, 21.87), (0.792, 22.27),
    (0.794, 21.72), (0.797, 22.27), (0.799, 21.87), (0.803, 21.87), (0.803, 22.17), (0.806, 21.87), (0.807, 21.63),
    (0.797, 21.42), (0.794, 21.27), (0.792, 20.97), (0.794, 20.82), (0.797, 20.97), (0.785, 20.82), (0.785, 20.45),
    (0.785, 20.30), (0.780, 19.92), (0.783, 20.07), (0.789, 20.07), (0.792, 20.07), (0.792, 19.77), (0.797, 20.07),
    (0.799, 20.45), (0.799, 20.30), (0.803, 20.22), (0.806, 20.07), (0.808, 20.82), (0.811, 21.57), (0.811, 21.42),
    (0.813, 21.42), (0.811, 20.97), (0.816, 21.57), (0.816, 21.12), (0.816, 20.82), (0.816, 20.45), (0.816, 20.30),
    (0.820, 21.42), (0.820, 21.12), (0.822, 21.05), (0.825, 21.20), (0.827, 21.05), (0.831, 20.97), (0.832, 20.82),
    (0.836, 20.67), (0.839, 20.52), (0.841, 20.37),
    (0.820, 13.32), (0.822, 13.02), (0.825, 13.02), (0.820, 13.02), (0.811, 13.02), (0.808, 13.17), (0.806, 13.17),
    (0.803, 13.32), (0.799, 13.47), (0.803, 13.62), (0.797, 13.02), (0.792, 12.87), (0.789, 13.47), (0.789, 13.17),
    (0.813, 13.32), (0.808, 13.47), (0.808, 12.57), (0.813, 12.42), (0.816, 14.20), (0.811, 13.92), (0.808, 14.22),
    (0.813, 14.67), (0.806, 15.05), (0.803, 14.97), (0.799, 14.82), (0.792, 14.82), (0.794, 14.52), (0.789, 14.22),
    (0.783, 14.37), (0.783, 13.77), (0.785, 14.52), (0.785, 15.12), (0.780, 14.97), (0.789, 16.02), (0.789, 15.57),
    (0.792, 15.42), (0.797, 15.87), (0.799, 15.87), (0.808, 15.72), (0.806, 16.32), (0.794, 16.32), (0.799, 16.77),
    (0.803, 16.77), (0.783, 16.77), (0.803, 17.22), (0.799, 17.22), (0.803, 17.52), (0.806, 17.37), (0.808, 17.67),
    (0.794, 17.52), (0.797, 17.82), (0.799, 17.67), (0.783, 18.12), (0.799, 18.27), (0.803, 18.12), (0.806, 18.05),
    (0.813, 18.12), (0.794, 18.57), (0.808, 18.57), (0.811, 18.57), (0.816, 18.42), (0.808, 18.87), (0.811, 18.87),
    (0.813, 18.87), (0.820, 18.95), (0.822, 19.02), (0.825, 19.02), (0.827, 19.25), (0.832, 19.32), (0.836, 19.47),
    (0.839, 19.62), (0.841, 19.77), (0.820, 19.32), (0.822, 19.47), (0.825, 19.47), (0.816, 19.47), (0.813, 19.47),
    (0.808, 19.02), (0.803, 19.02), (0.799, 19.02), (0.792, 19.47), (0.789, 19.32), (0.783, 19.02), (0.797, 19.32),
    (0.811, 19.92), (0.820, 20.07), (0.820, 19.77), (0.816, 19.77), (0.811, 20.37),
    (0.704, 8.22), (0.703, 7.95), (0.699, 9.27), (0.699, 9.07), (0.694, 9.27), (0.696, 9.42), (0.694, 8.97),
    (0.685, 8.82), (0.680, 8.67), (0.708, 9.30), (0.709, 9.12), (0.717, 9.30), (0.722, 9.75), (0.722, 9.30),
    (0.717, 10.62), (0.752, 7.77), (0.755, 7.17), (0.761, 7.32), (0.761, 7.02), (0.764, 7.17), (0.766, 7.53),
    (0.766, 6.87), (0.757, 6.42), (0.761, 6.27), (0.764, 6.42), (0.769, 6.30), (0.752, 6.87),
    (0.780, 9.72), (0.780, 9.45), (0.785, 9.12), (0.780, 8.82), (0.783, 8.52), (0.789, 8.67), (0.785, 7.92),
    (0.783, 7.62), (0.789, 7.32), (0.785, 7.17), (0.792, 7.47), (0.794, 8.07), (0.797, 7.77), (0.799, 8.07),
    (0.799, 8.37), (0.806, 8.22), (0.803, 8.82), (0.806, 8.67), (0.808, 8.52), (0.808, 8.97), (0.811, 8.90),
    (0.799, 8.82), (0.794, 8.90), (0.792, 8.90), (0.797, 9.12), (0.799, 9.42), (0.794, 9.57), (0.797, 10.17),
    (0.794, 10.02), (0.792, 10.02), (0.811, 9.72), (0.816, 9.57), (0.820, 9.57), (0.822, 9.45), (0.813, 9.27),
    (0.780, 11.67), (0.783, 11.22), (0.785, 10.92), (0.789, 11.67), (0.792, 11.67), (0.797, 11.67), (0.799, 11.07),
    (0.803, 11.37), (0.806, 11.52), (0.811, 10.92), (0.811, 10.77), (0.813, 11.07), (0.813, 11.37), (0.816, 11.67),
    (0.816, 10.55), (0.820, 11.67), (0.820, 11.22), (0.822, 11.67), (0.820, 12.57), (0.822, 12.27), (0.825, 11.97),
    (0.827, 12.45), (0.831, 12.20), (0.832, 12.12), (0.836, 11.97), (0.839, 11.67), (0.841, 11.45),
    (0.703, 7.20), (0.708, 6.82), (0.704, 6.75), (0.704, 6.45), (0.704, 5.55), (0.708, 5.25), (0.713, 6.30),
    (0.713, 5.85), (0.713, 5.47), (0.717, 5.25), (0.718, 6.15), (0.718, 5.55), (0.722, 5.32), (0.724, 6.00),
    (0.724, 5.62), (0.727, 6.15), (0.731, 5.92), (0.736, 5.85), (0.738, 6.15), (0.738, 5.55), (0.741, 6.30),
    (0.741, 6.00), (0.745, 6.27), (0.745, 5.47), (0.746, 5.55), (0.750, 5.55), (0.752, 5.40), (0.755, 5.40),
    (0.757, 5.77), (0.761, 5.55), (0.764, 5.82), (0.769, 5.85), (0.769, 5.70), (0.771, 6.15), (0.774, 6.07),
    (0.778, 6.15), (0.780, 6.45), (0.783, 6.60), (0.785, 7.12), (0.789, 6.87), (0.792, 7.27), (0.794, 7.35),
    (0.797, 7.50), (0.699, 5.70), (0.699, 5.17), (0.696, 5.17), (0.694, 5.85), (0.696, 5.70), (0.694, 7.05),
    (0.696, 7.65), (0.688, 7.80), (0.689, 7.65), (0.685, 7.95), (0.685, 7.50), (0.685, 7.05), (0.681, 7.95),
    (0.681, 7.35), (0.680, 7.05), (0.680, 6.75), (0.676, 6.75), (0.676, 6.30), (0.681, 6.45), (0.675, 7.20),
    (0.675, 7.95), (0.675, 8.47), (0.685, 5.10), (0.680, 5.02), (0.675, 5.25), (0.675, 4.95)]

NEAR_ZERO = [
    (0.529, 0.60), (0.531, 0.60), (0.534, 0.44), (0.538, 0.75), (0.545, 0.75), (0.548, 0.75), (0.554, 0.44),
    (0.557, 0.60), (0.559, 0.75), (0.585, 0.89), (0.592, 0.60), (0.601, 0.67), (0.601, 0.52), (0.605, 0.67),
    (0.610, 1.35), (0.613, 1.50), (0.619, 1.42), (0.619, 1.28), (0.613, 0.89), (0.613, 0.75), (0.610, 0.60),
    (0.615, 0.60), (0.619, 0.60), (0.624, 0.29), (0.629, 0.44), (0.633, 0.29), (0.634, 0.29), (0.638, 0.29),
    (0.627, 1.20), (0.643, 0.75), (0.643, 0.44), (0.648, 1.20), (0.652, 1.05), (0.655, 0.89), (0.657, 0.15),
    (0.661, 0.75), (0.661, 0.29), (0.666, 0.44), (0.666, 0.29), (0.668, 0.89), (0.668, 0.75), (0.671, 0.89),
    (0.671, 0.60), (0.675, 0.75), (0.676, 0.30), (0.680, 0.38), (0.681, 0.45), (0.685, 1.05), (0.685, 0.60),
    (0.688, 0.60), (0.689, 0.52), (0.694, 0.30), (0.696, 0.45), (0.703, 0.90), (0.703, 0.60), (0.704, 0.45),
    (0.708, 0.45), (0.745, 0.60), (0.752, 0.30), (0.755, 0.38), (0.764, 0.60), (0.780, 0.15), (0.783, 0.30),
    (0.785, 0.45), (0.789, 0.08), (0.792, 0.08), (0.794, 0.15), (0.797, 0.08), (0.799, 0.45), (0.799, 0.30),
    (0.803, 0.30), (0.806, 0.15), (0.808, 0.03), (0.811, 0.30), (0.813, 0.15), (0.816, 0.15), (0.820, 0.08),
    (0.822, 0.08), (0.825, 0.08), (0.831, 0.03), (0.832, 0.03), (0.836, 0.03), (0.839, 0.15), (0.841, 0.15),
    (0.845, 0.27), (0.846, 0.30), (0.850, 0.15), (0.853, 0.15), (0.856, 0.15), (0.859, 0.15), (0.864, 0.03),
    (0.867, 0.03), (0.870, 0.03), (0.873, 0.03), (0.878, 0.03)]

PERIOD2_UPPER = [(0.845, 20.07), (0.845, 19.90), (0.846, 19.87), (0.850, 19.85), (0.855, 19.77), (0.859, 19.62),
                 (0.864, 19.47), (0.868, 19.32), (0.874, 19.17), (0.878, 19.02), (0.883, 18.72), (0.888, 18.57),
                 (0.892, 18.42), (0.896, 18.27), (0.901, 18.12), (0.903, 17.92), (0.906, 17.82), (0.908, 17.60),
                 (0.911, 17.37), (0.914, 17.10), (0.917, 16.88), (0.921, 16.55), (0.924, 16.33), (0.928, 16.06),
                 (0.932, 15.78), (0.935, 15.56)]

PERIOD2_LOWER = [(0.799, 7.87), (0.803, 8.10), (0.806, 8.37), (0.811, 8.55), (0.813, 8.67), (0.816, 8.85),
                 (0.820, 9.15), (0.822, 9.27), (0.825, 9.38), (0.827, 9.48), (0.831, 9.60), (0.832, 9.72),
                 (0.836, 9.87), (0.839, 10.20), (0.841, 10.47), (0.845, 10.80), (0.845, 11.10), (0.850, 11.15),
                 (0.855, 11.15), (0.859, 11.37), (0.864, 11.52), (0.867, 11.52), (0.870, 11.67), (0.874, 11.82),
                 (0.878, 11.97), (0.883, 12.12), (0.887, 12.27), (0.890, 12.42), (0.892, 12.42), (0.895, 12.57),
                 (0.898, 12.72), (0.902, 13.02), (0.906, 13.17), (0.909, 13.40), (0.912, 13.72), (0.916, 13.99),
                 (0.920, 14.27), (0.924, 14.54), (0.928, 14.90), (0.931, 15.09), (0.935, 15.37)]

MERGE = [(0.938, 15.60), (0.938, 15.15), (0.940, 15.52), (0.940, 15.20), (0.943, 15.45), (0.943, 15.22),
         (0.946, 15.40), (0.946, 15.22), (0.949, 15.36), (0.949, 15.22), (0.951, 15.32), (0.951, 15.20),
         (0.954, 15.28), (0.954, 15.18), (0.957, 15.24), (0.957, 15.15), (0.959, 15.16), (0.959, 15.10),
         (0.962, 15.08)]

FINAL_LINE = [
    (0.966, 14.99), (0.970, 14.93), (0.974, 14.87), (0.978, 14.81), (0.982, 14.76), (0.986, 14.70), (0.990, 14.64),
    (0.994, 14.59), (0.998, 14.53), (1.002, 14.47), (1.006, 14.42), (1.010, 14.37), (1.014, 14.31), (1.018, 14.26),
    (1.022, 14.21), (1.026, 14.15), (1.030, 14.10), (1.034, 14.04), (1.038, 13.99), (1.042, 13.94), (1.046, 13.88),
    (1.050, 13.83), (1.054, 13.77), (1.058, 13.72), (1.062, 13.66), (1.066, 13.61), (1.070, 13.55), (1.074, 13.49),
    (1.078, 13.44), (1.082, 13.38), (1.086, 13.33), (1.090, 13.27), (1.094, 13.21), (1.098, 13.16), (1.102, 13.11),
    (1.106, 13.06), (1.110, 13.01), (1.114, 12.96), (1.118, 12.91), (1.122, 12.86), (1.126, 12.81), (1.130, 12.77),
    (1.134, 12.72), (1.138, 12.67), (1.142, 12.62), (1.146, 12.57), (1.150, 12.52), (1.154, 12.47), (1.158, 12.42),
    (1.162, 12.36), (1.166, 12.31), (1.170, 12.26), (1.174, 12.21), (1.178, 12.16), (1.182, 12.10), (1.186, 12.05),
    (1.190, 12.00), (1.194, 11.95), (1.198, 11.90), (1.202, 11.84), (1.206, 11.79), (1.210, 11.73), (1.214, 11.67),
    (1.218, 11.62), (1.222, 11.56), (1.226, 11.51), (1.230, 11.45), (1.234, 11.39), (1.238, 11.34), (1.242, 11.28),
    (1.246, 11.23), (1.250, 11.17), (1.254, 11.11), (1.258, 11.05), (1.262, 10.99), (1.266, 10.93), (1.270, 10.87),
    (1.274, 10.81), (1.278, 10.75), (1.282, 10.69), (1.286, 10.63), (1.290, 10.57), (1.294, 10.51), (1.298, 10.45),
    (1.302, 10.39), (1.306, 10.33), (1.310, 10.27), (1.314, 10.22), (1.318, 10.16), (1.322, 10.10), (1.326, 10.04),
    (1.330, 9.98), (1.334, 9.92), (1.338, 9.87), (1.342, 9.81), (1.346, 9.75), (1.350, 9.69), (1.354, 9.62),
    (1.358, 9.56), (1.362, 9.49), (1.366, 9.43), (1.370, 9.36), (1.374, 9.30), (1.378, 9.23), (1.382, 9.17),
    (1.386, 9.10), (1.390, 9.03), (1.394, 8.97), (1.398, 8.90), (1.402, 8.83), (1.406, 8.76), (1.410, 8.69),
    (1.414, 8.62), (1.418, 8.55), (1.422, 8.48), (1.426, 8.41), (1.430, 8.34), (1.434, 8.27), (1.438, 8.20),
    (1.442, 8.13), (1.446, 8.06), (1.450, 7.99), (1.454, 7.91), (1.458, 7.83), (1.462, 7.75), (1.466, 7.67),
    (1.470, 7.59), (1.474, 7.52), (1.478, 7.44), (1.482, 7.36), (1.486, 7.28), (1.490, 7.20)]

GROUPS = [LEFT_SEG, TOP_FLAT, TOP_CURVE, BRANCH_B, BRANCH_C, BRANCH_D, CHAOS_UPPER, CHAOS_LOWER,
          CHAOS_RIGHT_UPPER, CHAOS_RIGHT_LOWER, NEAR_ZERO, PERIOD2_UPPER, PERIOD2_LOWER, MERGE, FINAL_LINE]

rows = [pt for g in GROUPS for pt in g]
df = pd.DataFrame(rows, columns=["r2", "xmax"])

LABEL_FONT = "Liberation Sans"

chart = alt.Chart(df).mark_square(size=17, color="#0638E4", opacity=1, strokeWidth=0).encode(
    x=alt.X("r2:Q",
            scale=alt.Scale(domain=[0.2, 1.52], nice=False, zero=False),
            axis=alt.Axis(title="parameter r2", values=X_TICKS, format="~g",
                          labelExpr="datum.value == 1.5 ? '' : datum.label",
                          labelFlush=False, labelOverlap=False, labelBound=False,
                          domain=False, grid=False, offset=11, tickSize=22, tickWidth=3,
                          tickColor="black", labelPadding=10, labelFont=LABEL_FONT,
                          labelFontSize=51, labelColor="black", titleFont=LABEL_FONT,
                          titleFontSize=59, titleFontWeight="bold", titleColor="black",
                          titlePadding=33)),
    y=alt.Y("xmax:Q",
            scale=alt.Scale(domain=[0, 54], nice=False, zero=False),
            axis=alt.Axis(title="local maxima of variable x", values=Y_TICKS, format="d",
                          labelFlush=False, labelOverlap=False,
                          domain=False, grid=False, offset=35, tickSize=21, tickWidth=3,
                          tickColor="black", labelPadding=9, labelFont=LABEL_FONT,
                          labelFontSize=51, labelColor="black", titleFont=LABEL_FONT,
                          titleFontSize=60, titleFontWeight="bold", titleColor="black",
                          titlePadding=14)),
).properties(
    width=3399,
    height=1630,
    padding={"left": 217, "top": 35, "right": 16, "bottom": 190},
    autosize=alt.AutoSizeParams(type="none"),
    background="white",
).configure_view(stroke="black", strokeWidth=4)

chart.save("out.html", embed_options={"renderer": "svg", "actions": False})
